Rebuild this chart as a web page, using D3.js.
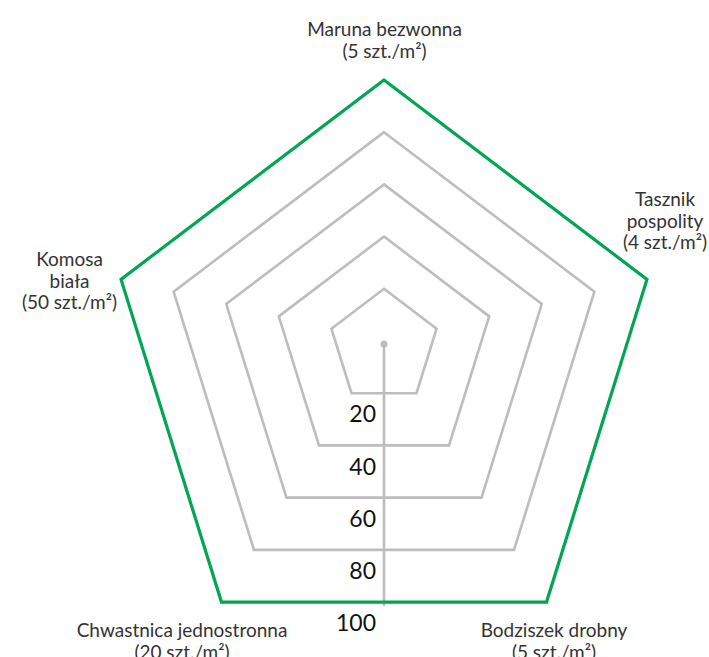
<!DOCTYPE html>
<html><head><meta charset="utf-8">
<script src="https://cdn.jsdelivr.net/npm/d3@7"></script>
<style>
html,body{margin:0;padding:0;background:#fff;}
svg{display:block;font-family:Lato,"Open Sans",sans-serif;}
</style></head>
<body>
<script>
const axesNames = [
  ["Maruna bezwonna","(5 szt./m²)"],
  ["Tasznik","pospolity","(4 szt./m²)"],
  ["Bodziszek drobny","(5 szt./m²)"],
  ["Chwastnica jednostronna","(20 szt./m²)"],
  ["Komosa","biała","(50 szt./m²)"]
];
const seriesValues = [100,100,100,100,100];
const gridLevels = [20,40,60,80];
const tickLabels = [20,40,60,80,100];

const W=709,H=657;
const cx=384, cy=341;
const svg=d3.select("body").append("svg").attr("width",W).attr("height",H);
const rx=d3.scaleLinear().domain([0,100]).range([0,276.5]);
const ry=d3.scaleLinear().domain([0,100]).range([0,288.6]);
const ang=d3.scaleLinear().domain([0,axesNames.length]).range([0,2*Math.PI]);
const yShift=(1-Math.cos(Math.PI/5))/2;
function pt(i,v){const a=ang(i);return [cx+rx(v)*Math.sin(a), cy+ry(v)*(-Math.cos(a)+yShift)];}
const line=d3.line().curve(d3.curveLinearClosed);

svg.append("g").selectAll("path").data(gridLevels).join("path")
  .attr("d",v=>line(axesNames.map((_,i)=>pt(i,v))))
  .attr("fill","none").attr("stroke","#bdbdbd").attr("stroke-width",2.6).attr("stroke-linejoin","miter");

const bottomY=v=>cy+ry(v)*(Math.cos(Math.PI/5)+yShift);
svg.append("line").attr("x1",cx).attr("x2",cx).attr("y1",cy+3).attr("y2",bottomY(100)+3)
  .attr("stroke","#bdbdbd").attr("stroke-width",2.6).attr("stroke-linecap","round");
svg.append("circle").attr("cx",cx).attr("cy",cy+3).attr("r",3.5).attr("fill","#bdbdbd");

svg.append("path").attr("d",line(seriesValues.map((v,i)=>pt(i,v))))
  .attr("fill","none").attr("stroke","#00a651").attr("stroke-width",3.2).attr("stroke-linejoin","miter");

svg.append("g").selectAll("text").data(tickLabels).join("text")
  .attr("x",cx-8).attr("y",v=>bottomY(v)+21).attr("dy","0.36em")
  .attr("text-anchor","end").attr("font-size",23).attr("fill","#111").text(d=>d);

// first-line baselines
const labelPos=[[384.5,36],[665,206],[554,637],[182,637],[69.5,266]];
svg.append("g").selectAll("text").data(axesNames).join("text")
  .attr("text-anchor","middle").attr("font-size",19).attr("fill","#333")
  .each(function(d,i){
    const t=d3.select(this);
    d.forEach((s,j)=>t.append("tspan").attr("x",labelPos[i][0]).attr("y",labelPos[i][1]+j*21.5).text(s));
  });
</script>
</body></html>
